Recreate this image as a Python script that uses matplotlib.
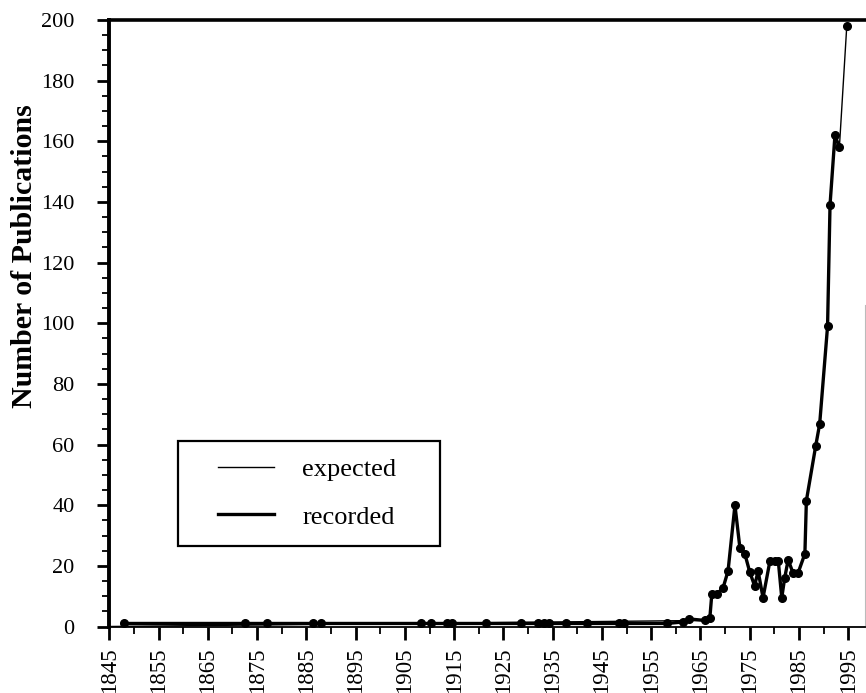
import matplotlib
matplotlib.use("Agg")
import matplotlib.pyplot as plt
from matplotlib.ticker import MultipleLocator
from matplotlib.legend_handler import HandlerLine2D

plt.rcParams['font.family'] = ['Liberation Serif', 'DejaVu Serif']

# recorded publications per year
rec_years = [1848.0, 1872.5, 1877.1, 1886.3, 1888.0, 1908.3, 1910.3, 1913.5, 1914.5,
             1921.5, 1928.5, 1932.0, 1933.3, 1934.3, 1937.8, 1942.0, 1948.5, 1949.5,
             1958.2, 1961.5, 1962.6,
             1965.9, 1966.9, 1967.3, 1968.3, 1969.6, 1970.6, 1972.0, 1973.0, 1974.0,
             1975.0, 1976.0, 1976.7, 1977.7, 1979.1, 1980.1, 1980.8, 1981.5, 1982.1,
             1982.8, 1983.8, 1984.8, 1986.2, 1986.5, 1988.4, 1989.2, 1990.8, 1991.3,
             1992.3, 1993.2]
rec_values = [1, 1, 1, 1, 1, 1, 1, 1, 1,
              1, 1, 1, 1, 1, 1, 1, 1, 1,
              1, 1.5, 2.5,
              2, 2.7, 10.6, 10.6, 12.8, 18.3, 40, 26, 24,
              18, 13.4, 18.3, 9.5, 21.6, 21.6, 21.6, 9.5, 16,
              22, 17.6, 17.6, 24, 41.5, 59.6, 66.8, 99, 139,
              162, 158]

# expected curve (thin line, mostly hidden under the recorded one)
exp_years = [1845, 1965.9, 1966.9, 1967.3, 1968.3, 1969.6, 1970.6, 1972.0, 1973.0,
             1974.0, 1975.0, 1976.0, 1976.7, 1977.7, 1979.1, 1980.1, 1980.8, 1981.5,
             1982.1, 1982.8, 1983.8, 1984.8, 1986.2, 1986.5, 1988.4, 1989.2, 1990.8,
             1991.3, 1992.3, 1993.2, 1994.7]
exp_values = [0, 2, 2.7, 10.6, 10.6, 12.8, 18.3, 40, 26,
              24, 18, 13.4, 18.3, 9.5, 21.6, 21.6, 21.6, 9.5,
              16, 22, 17.6, 17.6, 24, 41.5, 59.6, 66.8, 99,
              139, 162, 158, 198]

x_major = list(range(1845, 1996, 10))
y_major = list(range(0, 201, 20))

fig = plt.figure(figsize=(8.66, 6.93), dpi=100)
ax = fig.add_axes([109.3 / 866, 66.5 / 693, 755.7 / 866, 606.5 / 693])

ax.plot(exp_years, exp_values, color='black', lw=1.0, label='expected', zorder=3)
ax.plot(rec_years, rec_values, color='black', lw=2.4, label='recorded', zorder=4)
ax.plot(rec_years + [exp_years[-1]], rec_values + [exp_values[-1]], ls='none',
        marker='o', ms=5.5, color='black', zorder=5)

ax.set_xlim(1845, 1998.4)
ax.set_ylim(0, 200)
ax.set_xticks(x_major)
ax.set_xticklabels([str(v) for v in x_major], rotation=90)
ax.xaxis.set_minor_locator(MultipleLocator(5))
ax.set_yticks(y_major)
ax.yaxis.set_minor_locator(MultipleLocator(5))

ax.tick_params(axis='both', which='major', direction='out', length=9, width=2,
               labelsize=16, color='black')
ax.tick_params(axis='both', which='minor', direction='out', length=5, width=1.3)
ax.tick_params(axis='x', which='major', pad=6, labelsize=16.5)
ax.tick_params(axis='y', which='major', pad=16)

ax.spines['left'].set_linewidth(2.8)
ax.spines['top'].set_linewidth(2.6)
ax.spines['bottom'].set_linewidth(1.3)
ax.spines['right'].set_linewidth(0.8)
ax.spines['right'].set_color('#bbbbbb')
ax.spines['right'].set_bounds(0, 106)

ax.set_ylabel('Number of Publications', fontsize=21.5, fontweight='bold', va='center')
ax.yaxis.set_label_coords(-0.112, 0.61)

leg = ax.legend(loc='lower left', bbox_to_anchor=(0.091, 0.133, 0.347, 0.17),
                mode='expand', fontsize=19, frameon=True, fancybox=False,
                edgecolor='black', framealpha=1, borderpad=0.65, labelspacing=0.9,
                handlelength=3.0, handletextpad=1.06, borderaxespad=0,
                handler_map={plt.Line2D: HandlerLine2D(xpad=0.85)})
leg.get_frame().set_linewidth(1.6)

fig.savefig('out.png', dpi=100)
